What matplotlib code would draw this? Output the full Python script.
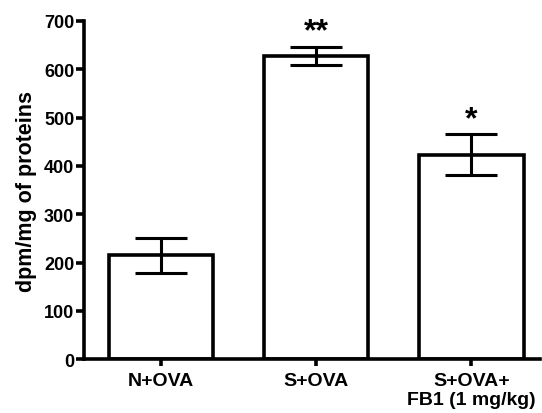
import matplotlib
matplotlib.use("Agg")
import matplotlib.pyplot as plt

categories = ["N+OVA", "S+OVA", "S+OVA+\nFB1 (1 mg/kg)"]
values = [215, 628, 423]
errors = [36, 19, 42]
stars = ["", "**", "*"]
yticks = [0, 100, 200, 300, 400, 500, 600, 700]

plt.rcParams['font.family'] = ['Liberation Sans', 'DejaVu Sans']
plt.rcParams['font.weight'] = 'bold'

fig = plt.figure(figsize=(5.42, 4.14), dpi=100)
ax = fig.add_axes([0.155, 0.130, 0.841, 0.817])

x = list(range(len(categories)))
lw = 2.6
ax.bar(x, values, width=0.67, color='white', edgecolor='black', linewidth=lw, zorder=2)
ax.errorbar(x, values, yerr=errors, fmt='none', ecolor='black', elinewidth=lw * 0.85,
            capsize=19, capthick=lw * 0.85, zorder=3)
for xi, v, e, s in zip(x, values, errors, stars):
    if s:
        ax.annotate(s, (xi, v + e), xytext=(0, 0), textcoords='offset points',
                    ha='center', va='bottom', fontsize=23, fontweight='bold')

ax.set_xlim(-0.495, 2.44)
ax.set_ylim(0, 700)
ax.set_yticks(yticks)
ax.set_xticks(x)
ax.set_xticklabels(categories, fontsize=14, fontweight='bold', linespacing=1.15)
ax.tick_params(axis='y', labelsize=13, width=lw, length=6, pad=1)
ax.tick_params(axis='x', width=lw, length=5, pad=4)
for lab in ax.get_yticklabels():
    lab.set_fontweight('bold')
ax.set_ylabel("dpm/mg of proteins", fontsize=15.5, fontweight='bold', labelpad=5)
for sp in ['top', 'right']:
    ax.spines[sp].set_visible(False)
for sp in ['left', 'bottom']:
    ax.spines[sp].set_linewidth(lw)

fig.savefig("out.png", dpi=100)
